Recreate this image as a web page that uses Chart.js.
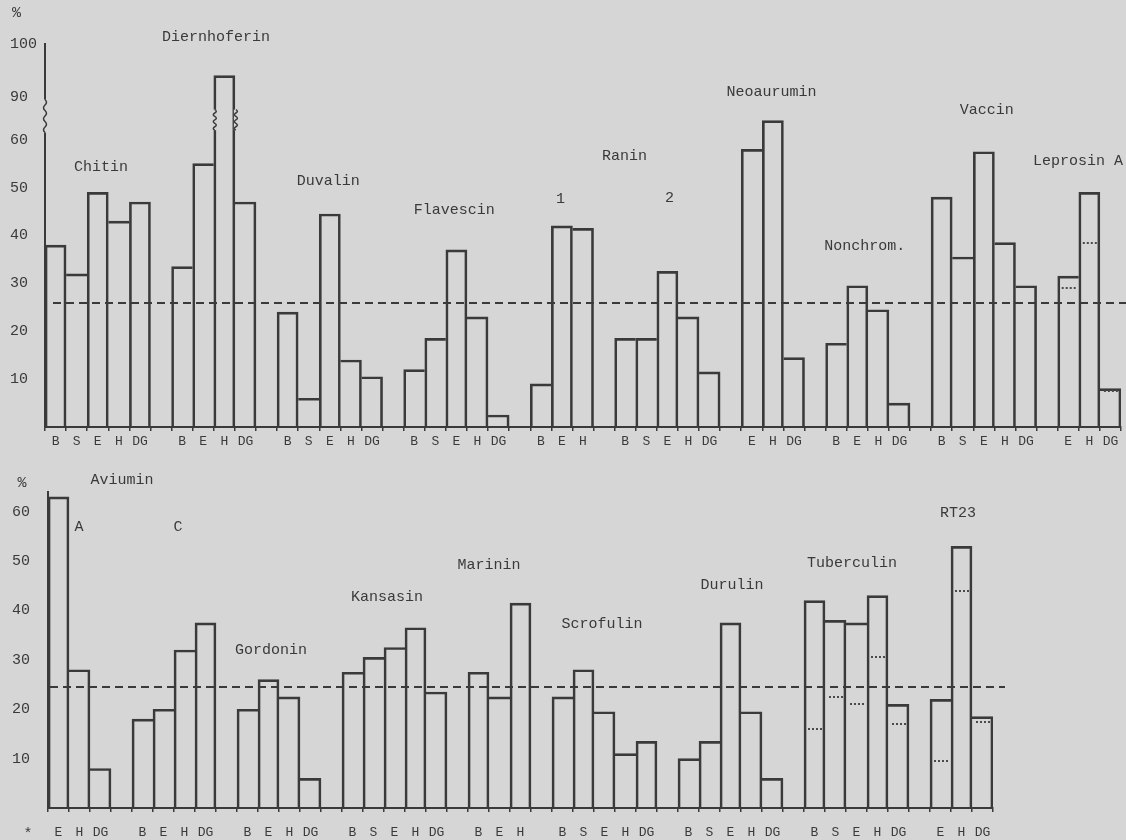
<!DOCTYPE html>
<html>
<head>
<meta charset="utf-8">
<script src="https://cdn.jsdelivr.net/npm/chart.js@4/dist/chart.umd.min.js"></script>
<style>
  body { margin: 0; background: #d6d6d6; }
  #page { position: relative; width: 1126px; height: 840px; }
  .panel { position: absolute; left: 0; width: 1126px; }
</style>
</head>
<body>
<div id="page">
  <div class="panel" style="top:0;height:450px"><canvas id="topChart"></canvas></div>
  <div class="panel" style="top:450px;height:390px"><canvas id="bottomChart"></canvas></div>
</div>
<script>
// upper panel, one array per antigen group
var topLetters = [
    ['B', 'S', 'E', 'H', 'DG'],   // Chitin
    ['B', 'E', 'H', 'DG'],        // Diernhoferin
    ['B', 'S', 'E', 'H', 'DG'],   // Duvalin
    ['B', 'S', 'E', 'H', 'DG'],   // Flavescin
    ['B', 'E', 'H'],              // Ranin 1
    ['B', 'S', 'E', 'H', 'DG'],   // Ranin 2
    ['E', 'H', 'DG'],             // Neoaurumin
    ['B', 'E', 'H', 'DG'],        // Nonchrom.
    ['B', 'S', 'E', 'H', 'DG'],   // Vaccin
    ['E', 'H', 'DG']              // Leprosin A
];
var topValues = [
    [38, 32, 49, 43, 47],
    [33.5, 55, 94, 47],
    [24, 6, 44.5, 14, 10.5],
    [12, 18.5, 37, 23, 2.5],
    [9, 42, 41.5],
    [18.5, 18.5, 32.5, 23, 11.5],
    [58, 64, 14.5],
    [17.5, 29.5, 24.5, 5],
    [48, 35.5, 57.5, 38.5, 29.5],
    [31.5, 49, 8]
];
var topDotted = [[], [], [], [], [], [], [], [], [], [29, 38.5, 7.5]];
var topTickValues = [10, 20, 30, 40, 50, 60, 90, 100];
var topMean = 26;

// lower panel
var bottomLetters = [
    ['E', 'H', 'DG'],             // Aviumin A
    ['B', 'E', 'H', 'DG'],        // Aviumin C
    ['B', 'E', 'H', 'DG'],        // Gordonin
    ['B', 'S', 'E', 'H', 'DG'],   // Kansasin
    ['B', 'E', 'H'],              // Marinin
    ['B', 'S', 'E', 'H', 'DG'],   // Scrofulin
    ['B', 'S', 'E', 'H', 'DG'],   // Durulin
    ['B', 'S', 'E', 'H', 'DG'],   // Tuberculin
    ['E', 'H', 'DG']              // RT23
];
var bottomValues = [
    [63, 28, 8],
    [18, 20, 32, 37.5],
    [20, 26, 22.5, 6],
    [27.5, 30.5, 32.5, 36.5, 23.5],
    [27.5, 22.5, 41.5],
    [22.5, 28, 19.5, 11, 13.5],
    [10, 13.5, 37.5, 19.5, 6],
    [42, 38, 37.5, 43, 21],
    [22, 53, 18.5]
];
var bottomDotted = [[], [], [], [], [], [], [], [16, 22.5, 21, 30.5, 17], [9.5, 44, 17.5]];
var bottomTickValues = [10, 20, 30, 40, 50, 60];
var bottomMean = 24.5;

var ink = '#3a3a3a';
var paper = '#d6d6d6';
var typeFont = '"Liberation Mono", "DejaVu Sans Mono", monospace';

// y axis of the upper panel is broken between 60 and 90
function breakMap(v) {
    if (v === null) return null;
    if (v <= 65) return v;
    if (v >= 90) return 69 + (v - 90) * 1.1;
    return 65 + (v - 65) * 4 / 25;
}
function plain(v) { return v; }

function buildSlots(letters, values, dotted, mapFn) {
    var out = { labels: [], data: [], dots: [] };
    letters.forEach(function(group, g) {
        if (g > 0) { out.labels.push(''); out.data.push(null); out.dots.push(null); }
        group.forEach(function(l, i) {
            out.labels.push(l);
            out.data.push(mapFn(values[g][i]));
            out.dots.push(dotted[g][i] === undefined ? null : dotted[g][i]);
        });
    });
    return out;
}

// the taller of two neighbours draws the shared edge
function edgeWidths(ctx) {
    var d = ctx.dataset.data, i = ctx.dataIndex, v = d[i];
    var prev = i > 0 ? d[i - 1] : null, next = i + 1 < d.length ? d[i + 1] : null;
    return {
        top: 2,
        left: (prev === null || prev <= v) ? 2 : 0,
        right: (next === null || next < v) ? 2 : 0,
        bottom: 0
    };
}

function notesPlugin(notes) {
    return {
        id: 'notes',
        afterDraw: function(chart) {
            var x = chart.scales.x, y = chart.scales.y, ctx = chart.ctx;
            ctx.save();
            ctx.fillStyle = ink;
            ctx.font = '15px ' + typeFont;
            ctx.textAlign = 'center';
            ctx.textBaseline = 'middle';
            notes.forEach(function(n) {
                ctx.fillText(n.text, x.getPixelForValue(n.slot), y.getPixelForValue(n.y));
            });
            ctx.restore();
        }
    };
}

function dotsPlugin(dots, mapFn) {
    return {
        id: 'dots',
        afterDatasetsDraw: function(chart) {
            var meta = chart.getDatasetMeta(0), y = chart.scales.y, ctx = chart.ctx;
            ctx.save();
            ctx.strokeStyle = '#4a4a4a';
            ctx.lineWidth = 2;
            ctx.setLineDash([2, 2]);
            dots.forEach(function(v, i) {
                if (v === null) return;
                var bar = meta.data[i];
                var py = Math.round(y.getPixelForValue(mapFn(v)));
                ctx.beginPath();
                ctx.moveTo(bar.x - bar.width / 2 + 4, py);
                ctx.lineTo(bar.x + bar.width / 2 - 3, py);
                ctx.stroke();
            });
            ctx.restore();
        }
    };
}

function meanPlugin(value, startOff, endX) {
    return {
        id: 'mean',
        afterDatasetsDraw: function(chart) {
            var a = chart.chartArea, ctx = chart.ctx;
            var py = Math.round(chart.scales.y.getPixelForValue(value));
            ctx.save();
            ctx.strokeStyle = ink;
            ctx.lineWidth = 2;
            ctx.setLineDash([8, 5]);
            ctx.beginPath();
            ctx.moveTo(a.left + startOff, py);
            ctx.lineTo(endX(a), py);
            ctx.stroke();
            ctx.restore();
        }
    };
}

function squiggle(ctx, x, y1, y2) {
    ctx.save();
    ctx.fillStyle = paper;
    ctx.fillRect(x - 2, y1, 4, y2 - y1);
    ctx.strokeStyle = ink;
    ctx.lineWidth = 1.5;
    ctx.beginPath();
    ctx.moveTo(x, y1);
    var n = 6, h = (y2 - y1) / n;
    for (var i = 0; i < n; i++) {
        ctx.quadraticCurveTo(x + (i % 2 ? -3 : 3), y1 + h * (i + 0.5), x, y1 + h * (i + 1));
    }
    ctx.stroke();
    ctx.restore();
}

var breakSlot = 8; // Diernhoferin H
var axisBreak = {
    id: 'axisBreak',
    afterDraw: function(chart) {
        var y = chart.scales.y, ctx = chart.ctx, a = chart.chartArea;
        var bar = chart.getDatasetMeta(0).data[breakSlot];
        squiggle(ctx, a.left, y.getPixelForValue(68.4), y.getPixelForValue(61.5));
        squiggle(ctx, bar.x - bar.width / 2 + 1, y.getPixelForValue(66.3), y.getPixelForValue(62));
        squiggle(ctx, bar.x + bar.width / 2 + 1, y.getPixelForValue(66.3), y.getPixelForValue(62));
    }
};

function makeChart(id, slots, cfg) {
    var ctx = document.getElementById(id).getContext('2d');
    return new Chart(ctx, {
        type: 'bar',
        data: {
            labels: slots.labels,
            datasets: [{
                data: slots.data,
                backgroundColor: 'rgba(0,0,0,0)',
                borderColor: ink,
                borderWidth: edgeWidths,
                barPercentage: 1,
                categoryPercentage: 1
            }]
        },
        options: {
            responsive: true,
            maintainAspectRatio: false,
            animation: false,
            layout: { padding: cfg.padding },
            plugins: { legend: { display: false }, tooltip: { enabled: false } },
            scales: {
                x: {
                    offset: true,
                    afterFit: function(s) { s.height = cfg.xHeight; },
                    border: { display: true, color: ink, width: 2 },
                    grid: { display: true, drawOnChartArea: false, drawTicks: true, tickLength: 4, offset: true, color: ink, lineWidth: 1.5 },
                    ticks: { autoSkip: false, maxRotation: 0, padding: cfg.xPad, color: ink, font: { family: typeFont, size: 13 } }
                },
                y: {
                    min: 0,
                    max: cfg.yMax,
                    afterFit: function(s) { s.width = cfg.yWidth; },
                    afterBuildTicks: function(s) {
                        s.ticks = cfg.ticks.map(function(v) { return { value: cfg.map(v) }; });
                    },
                    border: { display: true, color: ink, width: 2 },
                    grid: { display: false },
                    ticks: {
                        crossAlign: 'far',
                        color: ink,
                        font: { family: typeFont, size: 15 },
                        callback: function(value, index) { return String(cfg.ticks[index]); }
                    }
                }
            }
        },
        plugins: cfg.plugins
    });
}

document.addEventListener('DOMContentLoaded', function() {
    var top = buildSlots(topLetters, topValues, topDotted, breakMap);
    makeChart('topChart', top, {
        padding: { left: 10, top: 44, right: 5, bottom: 0 },
        xHeight: 23, xPad: 3, yWidth: 35, yMax: 80,
        ticks: topTickValues, map: breakMap,
        plugins: [
            meanPlugin(topMean, 8, function(a) { return 1126; }),
            dotsPlugin(top.dots, breakMap),
            axisBreak,
            notesPlugin([
                { text: '%', slot: -1.85, y: 86.4 },
                { text: 'Diernhoferin', slot: 7.61, y: 81.4 },
                { text: 'Chitin', slot: 2.16, y: 54.4 },
                { text: 'Duvalin', slot: 12.92, y: 51.3 },
                { text: 'Flavescin', slot: 18.9, y: 45.4 },
                { text: 'Ranin', slot: 26.97, y: 56.5 },
                { text: '1', slot: 23.93, y: 47.7 },
                { text: '2', slot: 29.1, y: 47.9 },
                { text: 'Neoaurumin', slot: 33.94, y: 69.9 },
                { text: 'Nonchrom.', slot: 38.35, y: 37.7 },
                { text: 'Vaccin', slot: 44.14, y: 66.3 },
                { text: 'Leprosin A', slot: 48.46, y: 55.6 }
            ])
        ]
    });

    var bottom = buildSlots(bottomLetters, bottomValues, bottomDotted, plain);
    makeChart('bottomChart', bottom, {
        padding: { left: 12, top: 42, right: 133, bottom: 0 },
        xHeight: 32, xPad: 13, yWidth: 36, yMax: 64,
        ticks: bottomTickValues, map: plain,
        plugins: [
            meanPlugin(bottomMean, 2, function(a) { return a.right + 12; }),
            dotsPlugin(bottom.dots, plain),
            notesPlugin([
                { text: '%', slot: -1.74, y: 65.9 },
                { text: 'Aviumin', slot: 3.02, y: 66.5 },
                { text: 'A', slot: 0.98, y: 57 },
                { text: 'C', slot: 5.69, y: 57 },
                { text: 'Gordonin', slot: 10.12, y: 32 },
                { text: 'Kansasin', slot: 15.64, y: 42.8 },
                { text: 'Marinin', slot: 20.5, y: 49.3 },
                { text: 'Scrofulin', slot: 25.88, y: 37.3 },
                { text: 'Durulin', slot: 32.07, y: 45.2 },
                { text: 'Tuberculin', slot: 37.79, y: 49.7 },
                { text: 'RT23', slot: 42.83, y: 59.8 },
                { text: '*', slot: -1.45, y: -5.3 }
            ])
        ]
    });
});
</script>
</body>
</html>
